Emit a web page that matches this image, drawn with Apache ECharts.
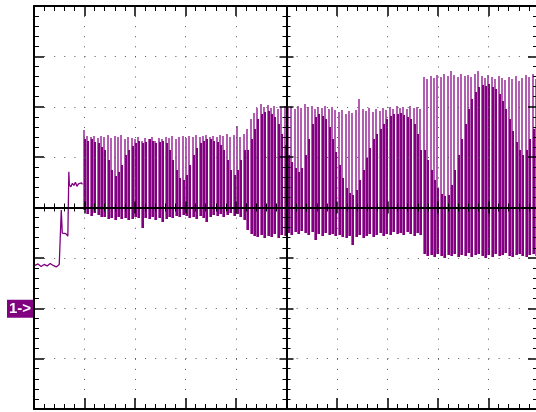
<!DOCTYPE html>
<html><head><meta charset="utf-8">
<script src="https://cdn.jsdelivr.net/npm/echarts@6/dist/echarts.min.js"></script>
<style>html,body{margin:0;padding:0;background:#fff}#c{width:536px;height:412px}</style>
</head><body><div id="c"></div>
<script>
// ---- axes (divisions) ----
const timeMin = -500, timeMax = 500, timeDiv = 100;
const voltMin = -400, voltMax = 400, voltDiv = 100;
const channelLabel = '1->';
const channelRef = -200;

// ---- slow trace before the burst ----
const preTimes  = [-498,-492,-486,-480,-474,-468,-462,-456,-450,-447,-446,-444,-441,-437,-433,-432,-431,-430,-427,-424,-421,-418,-415,-412,-409,-406,-404];
const preValues = [-115,-112,-117,-113,-116,-111,-115,-118,-113,-115,-5,-51,-53,-52,-57,-59,71,45,41,48,44,50,42,47,44,49,46];

// ---- burst: one column per acquisition sample ----
const sampleStart = -403, sampleStep = 6.73;
const peakHigh = [
 153,141,139,141,137,141,139,143,137,141, 139,143,135,139,137,135,139,133,137,135,
 139,133,137,135,139,137,141,135,139,141, 137,141,139,143,139,141,143,139,141,139,
 143,141,145,139,143,161,139,145,
 155,175,187,197,205,199,203,197,201,195, 199,201,197,199,195,201,197,205,199,201,
 195,199,197,201,195,199,193,189,193,185, 191,187,193,215,195,191,197,189,195,191,
 197,193,199,195,201,197,199,195,201,197, 199,195,
 259,255,261,257,263,259,265,261,271,263, 259,265,261,263,259,265,271,261,257,263,
 259,255,261,257,253,259,255,261,251,257, 263,259,265,255];
const peakLow = [
 -5,-13,-17,-11,-15,-19, -19,-23,-21,-25,-19,-23,-21,-25,-23,-19,-21, -41,
 -21,-23,-19,-25,-21,-29,-23,-19,-21,-17, -19,-15,-17,-21,-19,-23,-17,-21,-29,-19,
 -15,-17,-13,-19,-15,-11,-17,-13,-19,-25,
 -45,-53,-57,-59,-55,-61,-57,-59,-53,-61, -55,-57,-51,-55,-49,-53,-47,-51,-55,-49,
 -65,-53,-57,-51,-55,-53,-57,-55,-59,-61, -57,-75,-59,-55,-61,-57,-53,-59,-55,-51,
 -57,-53,-55,-49,-53,-51,-55,-49,-53,-57, -51,-55,
 -93,-97,-95,-99,-93,-97,-101,-95,-97,-93, -99,-95,-97,-91,-99,-95,-93,-97,-101,-95,
 -99,-93,-97,-95,-91,-97,-99,-95,-93,-97, -99,-95,-93,-97];
const denseHigh = [
 135,133,135,131,129,121, 115,95,75,63,71,85, 105,115,123,129,
 133,129,131,135,133,129,131,133,129, 115,95,75,59,55,65,85,
 105,119,129,133,135,135,133,131,125, 115,95,75,65,75,95,115,
 115,135,155,175,185,189,191,185,179,165, 145,125,105,91,79,71,
 79,105,135,165,179,185,181,175,159,135,111,85,59,39,29,25,35,55,75,99,119,135,145,155,165,175,
 181,185,185,187,183,179,175,165,145,115,
 115,95,75,55,39,27,23,25,45,75, 105,135,165,195,215,229,239,243,241,245,
 239,235,225,211,195,175,151,131,115,105, 115,135,155,175];

const lightRows = peakHigh.map((h, i) => [sampleStart + i * sampleStep, peakLow[i], h]);
const darkRows  = denseHigh.map((h, i) => [sampleStart + i * sampleStep, peakLow[i], h]);

function strokeRenderer(color, width, dx) {
  return function (params, api) {
    const t = api.value(0);
    const p1 = api.coord([t, api.value(1)]);
    const p2 = api.coord([t, api.value(2)]);
    const x = Math.round(p1[0]) + dx;
    return { type: 'line', shape: { x1: x, y1: Math.round(p1[1]), x2: x, y2: Math.round(p2[1]) },
      style: { stroke: color, lineWidth: width } };
  };
}

function xAx(pos, onZero, major, minor, split, lw) {
  return { type: 'value', position: pos, min: timeMin, max: timeMax, interval: timeDiv, z: 10,
    axisLine: { show: true, onZero: onZero, onZeroAxisIndex: 0, lineStyle: { color: '#000', width: lw } },
    axisTick: { show: true, inside: true, length: major, lineStyle: { color: '#000', width: 1.5 } },
    minorTick: { show: true, splitNumber: 5, length: minor, lineStyle: { color: '#000', width: 1 } },
    axisLabel: { show: false },
    splitLine: split ? { show: true, lineStyle: { color: '#555', width: 1, type: [1, 9.08] } } : { show: false },
    minorSplitLine: { show: false } };
}
function yAx(pos, onZero, major, minor, split, lw) {
  return { type: 'value', position: pos, min: voltMin, max: voltMax, interval: voltDiv, z: 10,
    axisLine: { show: true, onZero: onZero, onZeroAxisIndex: 0, lineStyle: { color: '#000', width: lw } },
    axisTick: { show: true, inside: true, length: major, lineStyle: { color: '#000', width: 1.5 } },
    minorTick: { show: true, splitNumber: 5, length: minor, lineStyle: { color: '#000', width: 1 } },
    axisLabel: { show: false },
    splitLine: split ? { show: true, lineStyle: { color: '#555', width: 1, type: [1, 9.1] } } : { show: false },
    minorSplitLine: { show: false } };
}

const chart = echarts.init(document.getElementById('c'), null, { renderer: 'canvas' });
chart.setOption({
  animation: false,
  backgroundColor: '#fff',
  grid: { left: 34, top: 6, width: 505, height: 403, containLabel: false, outerBoundsMode: 'none' },
  xAxis: [
    xAx('bottom', false, 11, 5, true, 2),
    xAx('top', false, 10, 5, false, 2),
    xAx('bottom', true, 6, 4, false, 2),
    xAx('top', true, 6, 4, false, 2)
  ],
  yAxis: [
    yAx('left', false, 10, 5, true, 2),
    yAx('right', false, 11, 6, false, 2),
    yAx('left', true, 7, 4, false, 2),
    yAx('right', true, 7, 4, false, 2)
  ],
  series: [
    { type: 'line', xAxisIndex: 0, yAxisIndex: 0, z: 3, showSymbol: false, symbol: 'none',
      data: preTimes.map((t, i) => [t, preValues[i]]),
      lineStyle: { color: '#800080', width: 1.3 } },
    { type: 'custom', xAxisIndex: 0, yAxisIndex: 0, z: 3, data: lightRows,
      encode: { x: 0, y: [1, 2] }, renderItem: strokeRenderer('#b25fb2', 2, 1) },
    { type: 'custom', xAxisIndex: 0, yAxisIndex: 0, z: 4, data: darkRows,
      encode: { x: 0, y: [1, 2] }, renderItem: strokeRenderer('#800080', 2, 2) }
  ]
});

const refY = chart.convertToPixel({ yAxisIndex: 0 }, channelRef);
chart.setOption({
  graphic: [
    { type: 'rect', left: 7, top: refY - 8.5, shape: { width: 26, height: 18 }, style: { fill: '#800080' }, z: 20 },
    { type: 'text', x: 20, y: refY + 0.5, z: 21,
      style: { text: channelLabel, fill: '#fff', font: 'bold 15px "Liberation Sans"', textAlign: 'center', textVerticalAlign: 'middle' } }
  ]
});
</script></body></html>
